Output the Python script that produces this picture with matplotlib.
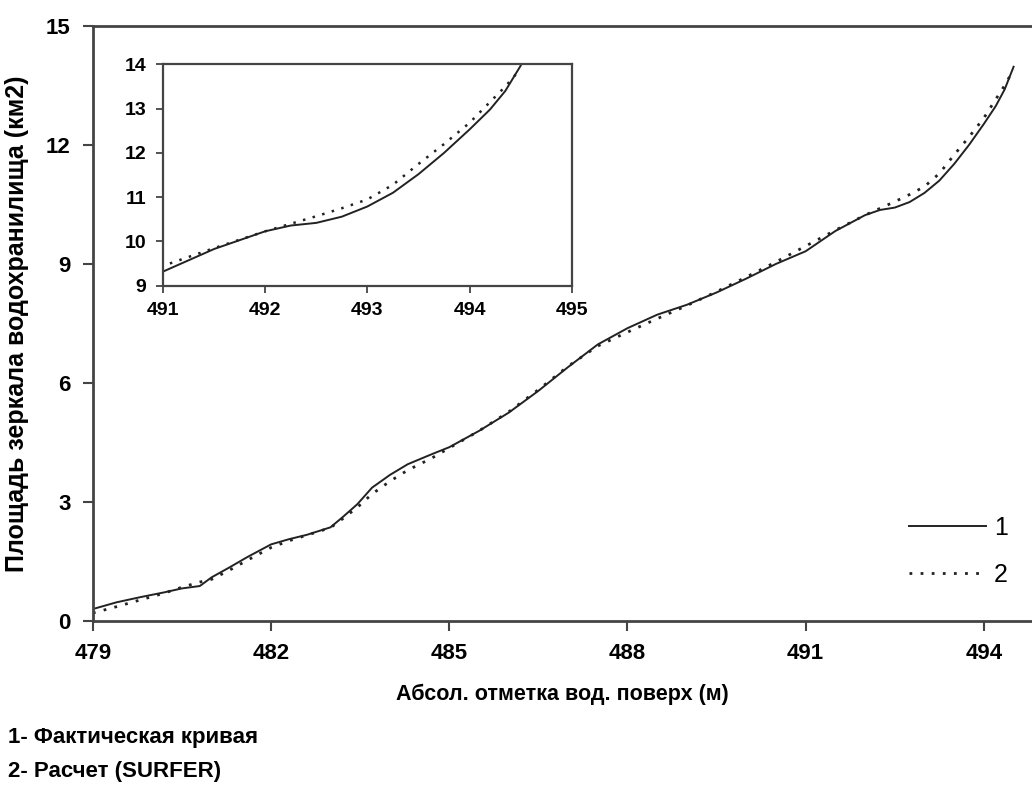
import matplotlib
matplotlib.use('Agg')
import matplotlib.pyplot as plt

# water level (m) and reservoir surface area (km2)
level = [479.0, 479.4, 479.8, 480.2, 480.5, 480.8, 481.0, 481.3, 481.6, 482.0,
         482.3, 482.6, 483.0, 483.2, 483.45, 483.7, 484.0, 484.3, 484.7, 485.0,
         485.5, 486.0, 486.5, 487.0, 487.5, 488.0, 488.5, 489.0, 489.5, 490.0,
         490.5, 491.0, 491.5, 492.0, 492.25, 492.5, 492.75, 493.0, 493.25, 493.5,
         493.75, 494.0, 494.2, 494.35, 494.5]
area_fact = [0.30, 0.47, 0.60, 0.72, 0.82, 0.88, 1.10, 1.35, 1.61, 1.93,
             2.06, 2.17, 2.36, 2.61, 2.94, 3.36, 3.68, 3.95, 4.20, 4.38,
             4.79, 5.25, 5.80, 6.40, 6.97, 7.38, 7.72, 7.97, 8.28, 8.63,
             9.00, 9.32, 9.83, 10.23, 10.36, 10.42, 10.56, 10.79, 11.10, 11.52,
             12.00, 12.53, 12.98, 13.40, 13.97]
area_surfer = [0.20, 0.36, 0.53, 0.70, 0.85, 0.98, 1.05, 1.28, 1.53, 1.85,
               2.02, 2.16, 2.35, 2.57, 2.86, 3.20, 3.52, 3.80, 4.10, 4.36,
               4.79, 5.27, 5.83, 6.42, 6.93, 7.28, 7.62, 7.95, 8.30, 8.67,
               9.05, 9.45, 9.85, 10.23, 10.40, 10.57, 10.75, 10.95, 11.28, 11.75,
               12.20, 12.68, 13.15, 13.50, 13.90]

main_xticks = [479, 482, 485, 488, 491, 494]
main_yticks = [0, 3, 6, 9, 12, 15]
inset_xticks = [491, 492, 493, 494, 495]
inset_yticks = [9, 10, 11, 12, 13, 14]

bold_font = ['Liberation Sans', 'DejaVu Sans']
dark = '#222222'
spine_col = '#444444'
dots = (0, (1, 3))

fig = plt.figure(figsize=(10.32, 7.85), dpi=100)

# main axes
ax = fig.add_axes([0.090, 0.209, 0.910, 0.758])
ax.plot(level, area_fact, color=dark, lw=1.4, label='1')
ax.plot(level, area_surfer, color=dark, lw=2, linestyle=dots, label='2')
ax.set_xlim(479, 494.81)
ax.set_ylim(0, 15)
ax.set_xticks(main_xticks)
ax.set_yticks(main_yticks)
ax.spines['right'].set_visible(False)
for s in ['left', 'bottom', 'top']:
    ax.spines[s].set_color(spine_col)
    ax.spines[s].set_linewidth(2)
ax.tick_params(direction='out', length=7, width=1.5, color=spine_col, pad=9)
for lab in ax.get_xticklabels() + ax.get_yticklabels():
    lab.set_family(bold_font)
    lab.set_weight('bold')
    lab.set_fontsize(16)
ax.set_xlabel('Абсол. отметка вод. поверх (м)', family=bold_font, weight='bold',
              fontsize=15.5, labelpad=14)
ax.set_ylabel('Площадь зеркала водохранилища (км2)', family=bold_font, weight='bold',
              fontsize=18, labelpad=12)
ax.legend(loc='lower right', bbox_to_anchor=(0.998, 0.02), frameon=False,
          prop={'family': bold_font, 'size': 18}, handlelength=3.1, handletextpad=0.3,
          labelspacing=0.9)

# inset axes
ins = fig.add_axes([0.158, 0.636, 0.396, 0.282])
ins.plot(level, area_fact, color=dark, lw=1.4)
ins.plot(level, area_surfer, color=dark, lw=1.8, linestyle=dots)
ins.set_xlim(491, 495)
ins.set_ylim(9, 14)
ins.set_xticks(inset_xticks)
ins.set_yticks(inset_yticks)
for s in ins.spines.values():
    s.set_color(spine_col)
    s.set_linewidth(1.6)
ins.tick_params(direction='out', length=5, width=1.3, color=spine_col, pad=7)
for lab in ins.get_xticklabels() + ins.get_yticklabels():
    lab.set_family(bold_font)
    lab.set_weight('bold')
    lab.set_fontsize(14)

# notes under the chart
fig.text(0.008, 0.061, '1- Фактическая кривая', family=bold_font, weight='bold',
         fontsize=16, va='center')
fig.text(0.008, 0.017, '2- Расчет (SURFER)', family=bold_font, weight='bold',
         fontsize=16, va='center')

fig.savefig('out.png', dpi=100)
